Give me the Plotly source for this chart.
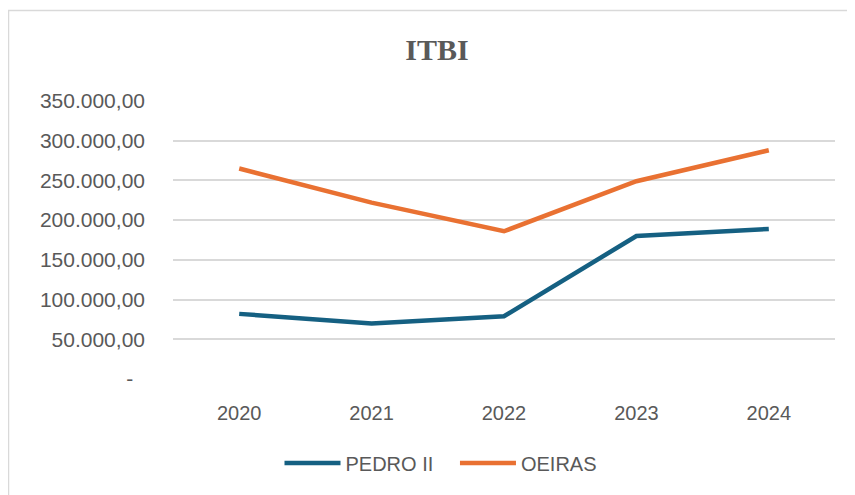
import plotly.graph_objects as go

years = ["2020", "2021", "2022", "2023", "2024"]
pedro_ii = [82000, 70000, 79000, 180000, 189000]
oeiras = [265000, 222000, 186000, 249000, 288000]
y_ticks = [0, 50000, 100000, 150000, 200000, 250000, 300000, 350000]
y_tick_labels = ["-\u00a0\u00a0", "50.000,00", "100.000,00", "150.000,00", "200.000,00",
                 "250.000,00", "300.000,00", "350.000,00"]

fig = go.Figure()
fig.add_trace(go.Scatter(x=years, y=pedro_ii, mode="lines", name="PEDRO II   ",
                         line=dict(color="#156082", width=4.5)))
fig.add_trace(go.Scatter(x=years, y=oeiras, mode="lines", name="OEIRAS",
                         line=dict(color="#E97132", width=4.5)))

OFF = 8  # page body margin
W, H = 855, 495
L, T = 173 - OFF, 101 - OFF
R = W - (835 - OFF)
B = H - (379 - OFF)
pw, ph = W - L - R, H - T - B

fig.update_layout(
    width=W, height=H,
    margin=dict(l=L, r=R, t=T, b=B),
    paper_bgcolor="white", plot_bgcolor="white",
    title=dict(text="<b>ITBI</b>", x=(437 - OFF) / W, xanchor="center",
               y=1 - (49 - OFF) / H, yanchor="middle",
               font=dict(family="Liberation Serif", size=30, color="#595959")),
    font=dict(family="Liberation Sans, Arial, sans-serif", size=20, color="#595959"),
    showlegend=True,
    legend=dict(orientation="h", x=(441 - OFF) / W, xref="container", xanchor="center",
                y=1 - (463 - OFF) / H, yref="container", yanchor="middle",
                itemwidth=56, font=dict(size=20, color="#595959")),
    xaxis=dict(showgrid=False, showline=False, zeroline=False, ticks="",
               range=[-0.5, 4.5], ticklabelstandoff=20),
    yaxis=dict(range=[0, 350000], tickvals=y_ticks, ticktext=y_tick_labels,
               tickfont=dict(size=21),
               showgrid=True, gridcolor="#d9d9d9", gridwidth=1.5, zeroline=False,
               showline=False, ticks="", ticklabelstandoff=27),
)

fig.add_shape(type="rect", xref="paper", yref="paper",
              x0=(0.5 - L) / pw, x1=(W + 20 - L) / pw,
              y0=-(H + 20 - (H - B)) / ph, y1=((H - B) - 2.5) / ph,
              line=dict(color="#d9d9d9", width=1.5), fillcolor="rgba(0,0,0,0)", layer="below")

fig.write_html("out.html")
